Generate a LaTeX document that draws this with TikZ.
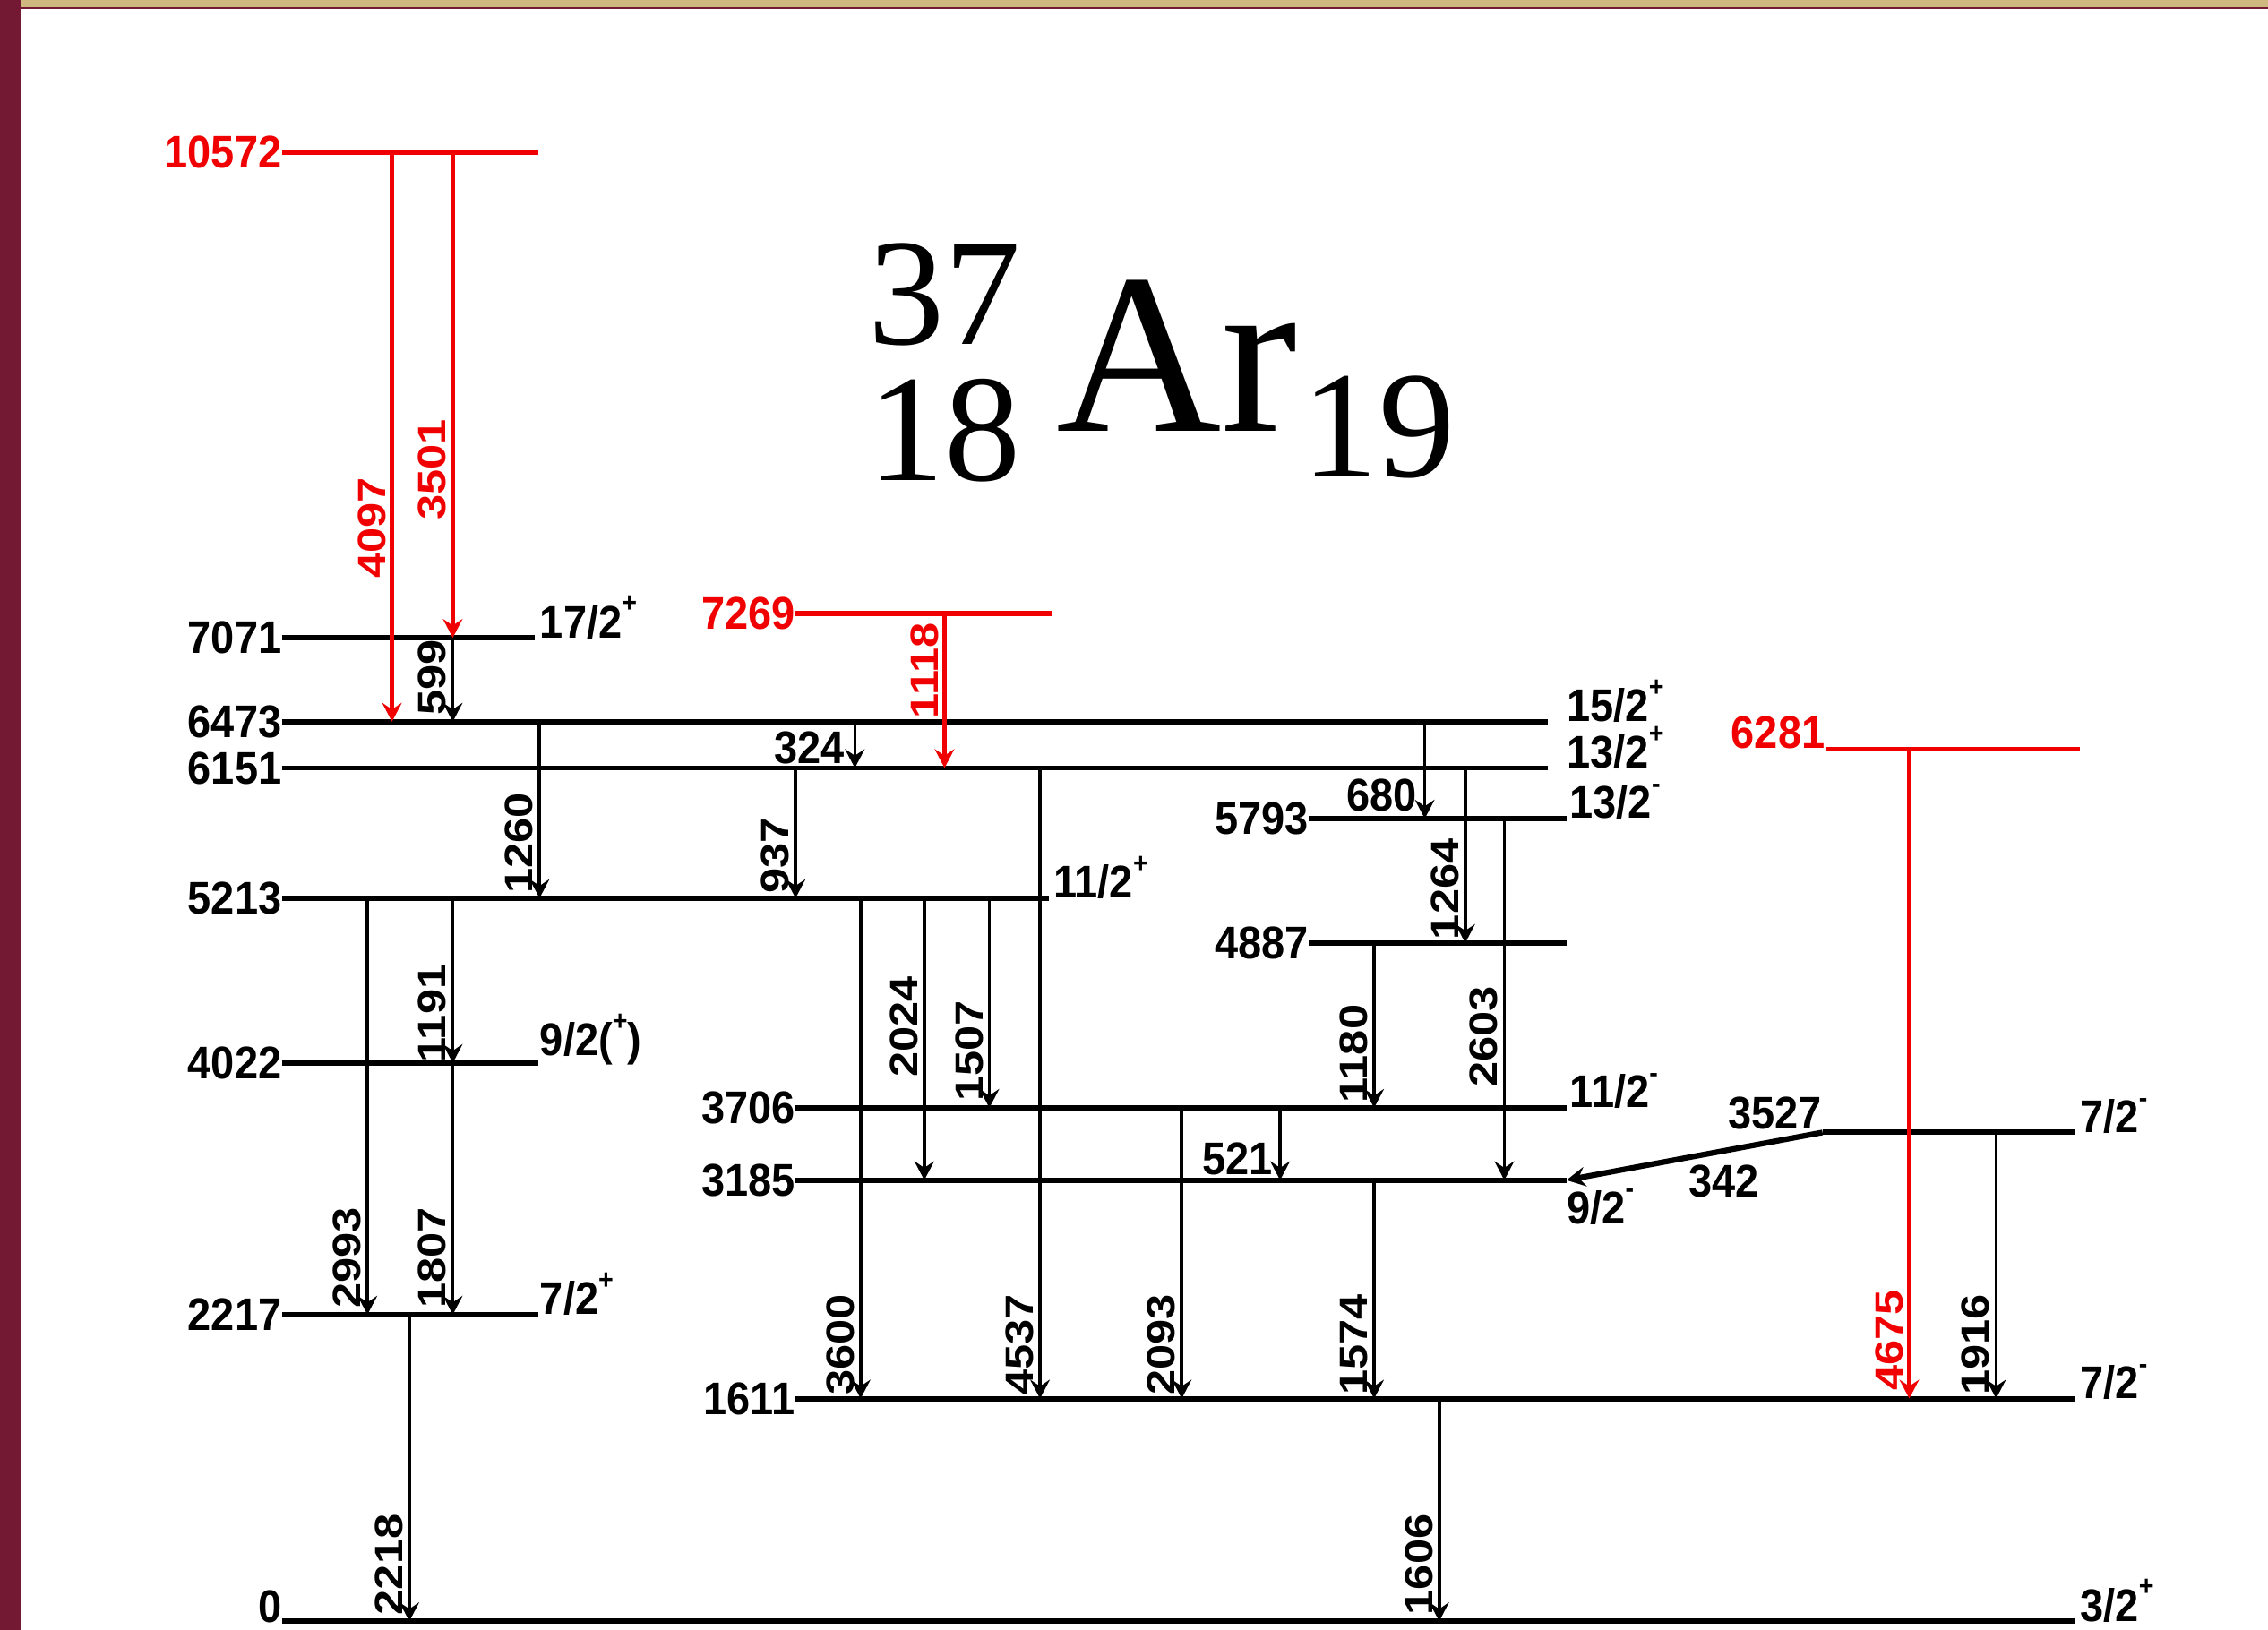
\documentclass[tikz,border=0pt]{standalone}
\usepackage{fontspec}
\setmainfont{Liberation Sans}
\newfontfamily\lvlfont{Liberation Sans}[FakeStretch=0.92]
\newfontfamily\gamfont{Liberation Sans}[FakeStretch=1.15]
\newfontfamily\titlefont{Liberation Serif}
\usetikzlibrary{arrows.meta}
\definecolor{fsumaroon}{RGB}{115,25,52}
\definecolor{fsugold}{RGB}{206,184,128}
\definecolor{transred}{RGB}{240,0,0}
\newcommand{\parity}[1]{\raisebox{1.05ex}{\fontsize{11}{11}\selectfont#1}}
\tikzset{
  lvline/.style={line width=2.1pt},
  redline/.style={lvline, draw=transred},
  gline/.style={-{Stealth[length=2.6mm,width=2.7mm,inset=0.9mm]}, line width=1.3pt},
  redgline/.style={gline, draw=transred, line width=1.6pt},
  elabel/.style={inner sep=0pt, font=\lvlfont\bfseries\fontsize{18}{20}\selectfont},
  spinlabel/.style={elabel, anchor=base west},
  glabel/.style={inner sep=0pt, rotate=90, anchor=south west, font=\gamfont\bfseries\fontsize{15.5}{18}\selectfont},
  titletext/.style={inner sep=0pt, anchor=base west, font=\titlefont\fontsize{60}{66}\selectfont}
}
\begin{document}
\begin{tikzpicture}[x=0.02cm, y=-0.02cm]
  \useasboundingbox (0,0) rectangle (1568,1127);
  % frame
  \fill[fsumaroon] (0,0) rectangle (14,1127);
  \fill[fsugold] (14,0) rectangle (1568,5);
  \fill[fsumaroon] (14,5) rectangle (1568,6.4);

  % title
  \node[titletext] (amass) at (600,238) {37};
  \node[titletext] (zcharge) at (600,332) {18};
  \node[titletext, font=\titlefont\fontsize{90}{96}\selectfont] (elem) at (730,298) {Ar};
  \node[titletext] (nneut) at (900,330) {19};

  % levels
  \foreach \n/\y/\xa/\xb in {7071/441/195/370, 6473/499/195/1070, 6151/531/195/1070,
      5793/566/905/1083, 5213/621/195/725, 4887/652/905/1083, 4022/735/195/372,
      3706/766/550/1083, 3527/783/1260/1435, 3185/816/550/1083, 2217/909/195/372,
      1611/967/550/1435, 0/1121/195/1435}
    \draw[lvline] (\xa,\y) coordinate (L\n) -- (\xb,\y) coordinate (R\n);
  \foreach \n/\y/\xa/\xb in {10572/105/195/372, 7269/424/550/727, 6281/518/1262/1438}
    \draw[redline] (\xa,\y) coordinate (L\n) -- (\xb,\y) coordinate (R\n);

  % energies
  \foreach \n in {7071,6473,6151,5793,5213,4887,4022,3706,3185,2217,1611}
    \node[elabel, anchor=east] (e\n) at (L\n) {\n};
  \node[elabel, anchor=south east] (e0) at ([yshift=-1pt]L0) {0};
  \node[elabel, anchor=south east] (e3527) at ([yshift=1pt]L3527) {3527};
  \node[elabel, anchor=east, text=transred] (e10572) at (L10572) {10572};
  \node[elabel, anchor=east, text=transred] (e7269) at (L7269) {7269};
  \node[elabel, anchor=south east, text=transred] (e6281) at (L6281) {6281};

  % spins
  \node[spinlabel] (s7071) at (373,441) {17/2\parity{+}};
  \node[spinlabel] (s6473) at (1083,499) {15/2\parity{+}};
  \node[spinlabel] (s6151) at (1083,531) {13/2\parity{+}};
  \node[spinlabel] (s5793) at (1085,566) {13/2\parity{-}};
  \node[spinlabel] (s5213) at (728,621) {11/2\parity{+}};
  \node[spinlabel] (s4022) at (373,730) {9/2(\parity{+})};
  \node[spinlabel] (s3706) at (1085,766) {11/2\parity{-}};
  \node[spinlabel] (s3527) at (1438,783) {7/2\parity{-}};
  \node[spinlabel] (s3185) at (1083,846) {9/2\parity{-}};
  \node[spinlabel] (s2217) at (373,909) {7/2\parity{+}};
  \node[spinlabel] (s1611) at (1438,967) {7/2\parity{-}};
  \node[spinlabel] (s0) at (1438,1121) {3/2\parity{+}};

  % gamma rays
  \foreach \t/\x/\a/\b/\yl in {599/313/7071/6473/495, 1260/373/6473/5213/618,
      937/550/6151/5213/618, 4537/719/6151/1611/965, 1264/1013/6151/4887/650,
      2603/1040/5793/3185/752, 1180/950/4887/3706/763, 1191/313/5213/4022/735,
      2993/254/5213/2217/905, 1807/313/4022/2217/905, 3600/595/5213/1611/965,
      2024/639/5213/3185/745, 1507/684/5213/3706/762, 2218/283/2217/0/1117,
      2093/817/3706/1611/965, 1574/950/3185/1611/965, 1606/995/1611/0/1117,
      1916/1380/3527/1611/965}{
    \draw[gline] (\x,0 |- L\a) -- (\x,0 |- L\b);
    \node[glabel] (g\t) at (\x-4,\yl) {\t};
  }
  \foreach \t/\x/\a/\b/\lx/\ly in {324/591/6473/6151/584/517,
      680/985/6473/5793/980/550, 521/885/3706/3185/880/801}{
    \draw[gline] (\x,0 |- L\a) -- (\x,0 |- L\b);
    \node[elabel, anchor=east] (g\t) at (\lx,\ly) {\t};
  }
  \draw[gline, line width=2.2pt] (L3527) -- (R3185);
  \node[elabel] (g342) at (1192,817) {342};

  % red transitions
  \foreach \t/\x/\a/\b/\yl in {4097/271/10572/6473/400, 3501/313/10572/7071/360,
      1118/653/7269/6151/497, 4675/1320/6281/1611/962}{
    \draw[redgline] (\x,0 |- L\a) -- (\x,0 |- L\b);
    \node[glabel, text=transred] (g\t) at (\x-4,\yl) {\t};
  }
\end{tikzpicture}
\end{document}
